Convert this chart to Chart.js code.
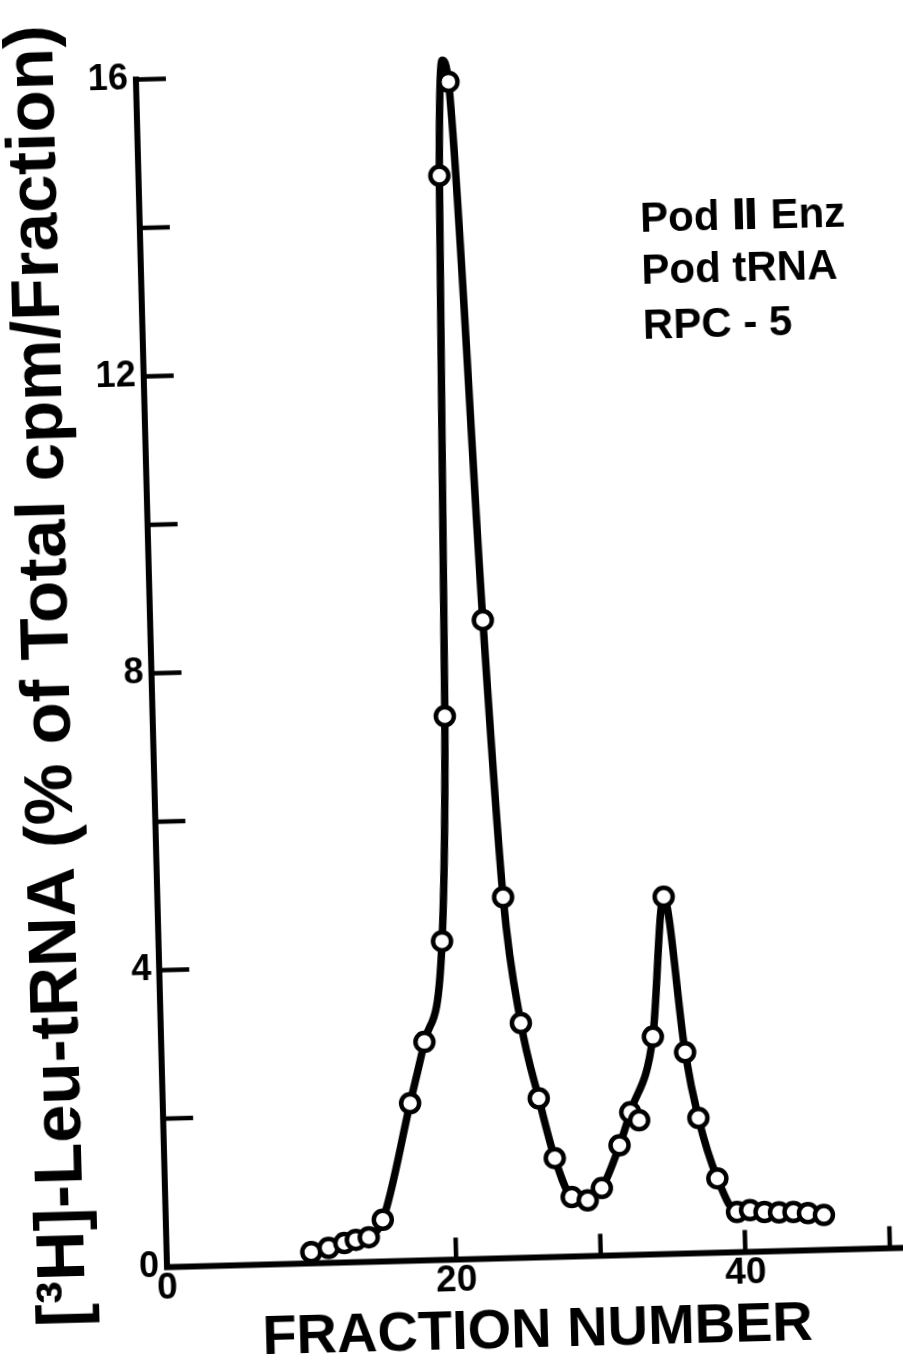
<!DOCTYPE html>
<html lang="en">
<head>
<meta charset="UTF-8">
<title>[3H]-Leu-tRNA RPC-5 profile</title>
<script src="https://cdn.jsdelivr.net/npm/chart.js"></script>
<style>
  * { box-sizing: border-box; margin: 0; padding: 0; }
  html, body { width: 903px; height: 1372px; overflow: hidden; background: #fff; }
  /* the plate sits slightly tilted on the page */
  #chart { display: block; transform: rotate(-1.5deg); transform-origin: 50% 50%; }
</style>
</head>
<body>
<canvas id="chart" width="903" height="1372"></canvas>
<script>
// measured fractions (open circles)
const fraction = [10.0, 11.2, 12.3, 13.1, 14.0, 15.0, 17.1, 18.2, 19.6, 20.2, 20.8, 21.6, 23.0, 23.9, 24.9, 26.0, 27.0, 28.1, 29.2, 30.2, 31.5, 32.3, 32.9, 34.0, 35.0, 36.2, 37.0, 38.2, 39.5, 40.4, 41.4, 42.4, 43.4, 44.4, 45.5];
const cpmPct = [0.15, 0.20, 0.26, 0.30, 0.33, 0.56, 2.12, 2.94, 4.29, 7.32, 14.6, 15.86, 8.6, 4.86, 3.16, 2.14, 1.33, 0.80, 0.75, 0.91, 1.48, 1.92, 1.81, 2.93, 4.81, 2.71, 1.82, 1.0, 0.54, 0.56, 0.53, 0.52, 0.52, 0.50, 0.47];

// hand-drawn elution curve through the points
const curveFraction = [10.0, 11.2, 12.3, 13.1, 14.0, 15.0, 17.1, 18.2, 19.6, 20.2, 20.8, 21.2, 21.6, 23.0, 23.9, 24.9, 26.0, 27.0, 28.1, 29.2, 30.2, 31.5, 32.3, 34.0, 35.0, 36.2, 37.0, 38.2, 39.5, 40.4, 41.4, 42.4, 43.4, 44.4, 45.5];
const curveCpm = [0.15, 0.20, 0.26, 0.30, 0.33, 0.56, 2.12, 2.94, 4.29, 7.32, 14.6, 16.15, 15.86, 8.6, 4.86, 3.16, 2.14, 1.33, 0.80, 0.75, 0.91, 1.48, 1.92, 2.93, 4.81, 2.71, 1.82, 1.0, 0.54, 0.56, 0.53, 0.52, 0.52, 0.50, 0.47];

const xTickLabels = [0, 20, 40];
const yTickLabels = [0, 4, 8, 12, 16];
const legendLines = ['Pod \u2161 Enz', 'Pod tRNA', 'RPC - 5'];

const FONT = "'Liberation Sans', 'DejaVu Sans', Arial, sans-serif";

// axes drawn as ink lines with inward tick marks
const inkAxes = {
  id: 'inkAxes',
  beforeDatasetsDraw(chart) {
    const { ctx, scales: { x, y } } = chart;
    const x0 = x.getPixelForValue(0);
    const y0 = y.getPixelForValue(0);
    ctx.save();
    ctx.strokeStyle = '#000';
    ctx.lineWidth = 6;
    ctx.lineCap = 'square';
    ctx.beginPath();
    ctx.moveTo(x0, y.getPixelForValue(16));
    ctx.lineTo(x0, y0);
    ctx.lineTo(chart.width + 20, y0);
    ctx.stroke();

    ctx.lineWidth = 4.5;
    ctx.lineCap = 'butt';
    ctx.beginPath();
    y.ticks.forEach(t => {
      if (t.value === 0) return;
      const py = y.getPixelForValue(t.value);
      ctx.moveTo(x0, py);
      ctx.lineTo(x0 + 30, py);
    });
    x.ticks.forEach(t => {
      if (t.value === 0) return;
      const px = x.getPixelForValue(t.value);
      ctx.moveTo(px, y0);
      ctx.lineTo(px, y0 - 22);
    });
    ctx.stroke();
    ctx.restore();
  },
  afterDatasetsDraw(chart) {
    const { ctx, scales: { x, y } } = chart;
    ctx.save();
    ctx.fillStyle = '#000';
    ctx.font = 'bold 42px ' + FONT;
    ctx.textAlign = 'left';
    ctx.textBaseline = 'middle';
    const rows = [13.93, 13.22, 12.48];
    legendLines.forEach((s, i) => {
      ctx.fillText(s, x.getPixelForValue(34.6), y.getPixelForValue(rows[i]));
    });
    ctx.restore();
  }
};

new Chart(document.getElementById('chart'), {
  type: 'scatter',
  data: {
    datasets: [
      {
        label: 'fractions',
        data: fraction.map((f, i) => ({ x: f, y: cpmPct[i] })),
        showLine: false,
        pointStyle: 'circle',
        pointRadius: 9,
        pointBorderWidth: 4.5,
        pointBackgroundColor: '#fff',
        pointBorderColor: '#000',
        clip: false
      },
      {
        label: 'curve',
        data: curveFraction.map((f, i) => ({ x: f, y: curveCpm[i] })),
        showLine: true,
        borderColor: '#000',
        borderWidth: 7.5,
        borderCapStyle: 'round',
        borderJoinStyle: 'round',
        cubicInterpolationMode: 'monotone',
        pointRadius: 0,
        clip: false
      }
    ]
  },
  options: {
    responsive: false,
    animation: false,
    devicePixelRatio: 1,
    layout: { padding: { top: 71.5, right: 3.6, left: 0, bottom: 0 } },
    plugins: { legend: { display: false }, tooltip: { enabled: false } },
    scales: {
      x: {
        type: 'linear',
        min: 0,
        max: 51,
        afterFit(s) { s.height = 112.6; },
        grid: { display: false, drawTicks: false },
        border: { display: false },
        ticks: {
          stepSize: 10,
          includeBounds: false,
          autoSkip: false,
          maxRotation: 0,
          padding: 3,
          color: '#000',
          font: { family: FONT, size: 37, weight: 'bold', lineHeight: 1 },
          callback: v => xTickLabels.includes(v) ? String(v) : ''
        },
        title: {
          display: true,
          text: 'FRACTION NUMBER',
          color: '#000',
          font: { family: FONT, size: 56, weight: 'bold', lineHeight: 1 },
          padding: { top: 0, bottom: 10 }
        }
      },
      y: {
        min: 0,
        max: 16,
        afterFit(s) { s.width = 151.9; },
        grid: { display: false, drawTicks: false },
        border: { display: false },
        ticks: {
          stepSize: 2,
          padding: 8,
          color: '#000',
          font: { family: FONT, size: 36, weight: 'bold', lineHeight: 1 },
          callback: v => yTickLabels.includes(v) ? String(v) : ''
        },
        title: {
          display: true,
          text: '[\u00b3H]-Leu-tRNA (% of Total cpm/Fraction)',
          color: '#000',
          font: { family: FONT, size: 69, weight: 'bold', lineHeight: 1.2 },
          padding: { top: 9, bottom: 0 }
        }
      }
    }
  },
  plugins: [inkAxes]
});
</script>
</body>
</html>
